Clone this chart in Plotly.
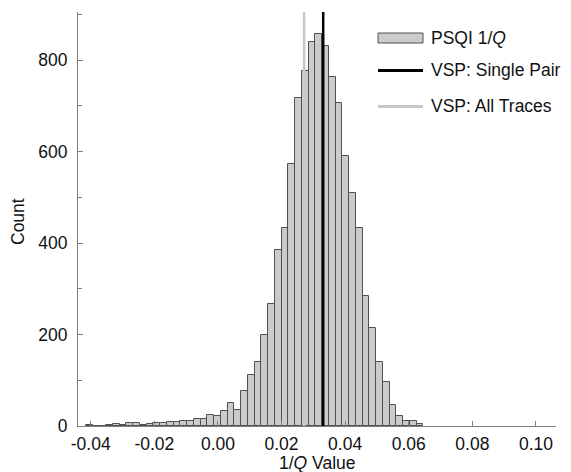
import plotly.graph_objects as go

# ---- data ----
bin_width = 0.002121          # histogram bin width (1/Q units)
first_bin_center = -0.04043   # centre of the left-most bin
counts = [2, 1, 0, 3, 5, 3, 7, 6, 3, 5, 6, 7, 9, 9, 12, 11, 15, 16, 23, 22,
          33, 51, 35, 76, 111, 139, 198, 267, 384, 433, 573, 716, 777, 840,
          857, 830, 764, 706, 590, 509, 433, 285, 215, 140, 96, 45, 22, 12, 12, 4]
vsp_single_pair = 0.0331
vsp_all_traces = 0.0271
x_ticks = [-0.04, -0.02, 0.00, 0.02, 0.04, 0.06, 0.08, 0.10]
x_tick_labels = ["-0.04", "-0.02", "0.00", "0.02", "0.04", "0.06", "0.08", "0.10"]
y_ticks = [0, 200, 400, 600, 800]
x_range = [-0.0440, 0.1063]
y_range = [0, 905]

FONT = "Liberation Sans, Arial, sans-serif"
BAR_FILL = "#cbcbcb"
BAR_EDGE = "#505050"
GRAY_LINE = "#c8c8c8"
AXIS_COL = "#7f7f7f"

fig = go.Figure()
fig.add_trace(go.Bar(
    y=counts, x0=first_bin_center, dx=bin_width, width=bin_width,
    marker=dict(color=BAR_FILL, line=dict(color=BAR_EDGE, width=1)),
    showlegend=False, hoverinfo="skip"))
fig.add_trace(go.Scatter(
    x=[vsp_all_traces, vsp_all_traces], y=y_range, mode="lines",
    line=dict(color=GRAY_LINE, width=2.5), showlegend=False))
fig.add_trace(go.Scatter(
    x=[vsp_single_pair, vsp_single_pair], y=y_range, mode="lines",
    line=dict(color="#000000", width=2.5), showlegend=False))

# plot area in pixels: x 78..556, y 12..426
L, R, T, B = 78, 556, 12, 426
W, H = 571, 472
def px(xp):
    return (xp - L) / (R - L)
def py(yp):
    return (B - yp) / (B - T)

shapes = []
annotations = []
# manual legend
leg_x0, leg_x1, leg_tx = 378, 423, 429
shapes.append(dict(type="rect", xref="paper", yref="paper",
                   x0=px(leg_x0), x1=px(leg_x1), y0=py(43), y1=py(33),
                   fillcolor=BAR_FILL, line=dict(color=BAR_EDGE, width=1)))
shapes.append(dict(type="line", xref="paper", yref="paper",
                   x0=px(leg_x0), x1=px(leg_x1), y0=py(70.5), y1=py(70.5),
                   line=dict(color="#000000", width=3)))
shapes.append(dict(type="line", xref="paper", yref="paper",
                   x0=px(leg_x0), x1=px(leg_x1), y0=py(106.5), y1=py(106.5),
                   line=dict(color=GRAY_LINE, width=3)))
for text, yy in [("PSQI 1/<i>Q</i>", 38), ("VSP: Single Pair", 70),
                 ("VSP: All Traces", 106)]:
    annotations.append(dict(text=text, xref="paper", yref="paper",
                            x=px(leg_tx), y=py(yy), xanchor="left",
                            yanchor="middle", showarrow=False,
                            font=dict(family=FONT, size=17.5, color="#111111")))
# axis titles
annotations.append(dict(text="1/<i>Q</i> Value", xref="paper", yref="paper",
                        x=px(317), y=py(463), xanchor="center", yanchor="middle",
                        showarrow=False,
                        font=dict(family=FONT, size=17.5, color="#111111")))
annotations.append(dict(text="Count", xref="paper", yref="paper",
                        x=px(18), y=py(222), xanchor="center", yanchor="middle",
                        textangle=-90, showarrow=False,
                        font=dict(family=FONT, size=17.5, color="#111111")))

fig.update_layout(
    width=W, height=H,
    margin=dict(l=L, r=W - R, t=T, b=H - B, pad=0),
    paper_bgcolor="white", plot_bgcolor="white",
    bargap=0,
    font=dict(family=FONT, size=17, color="#111111"),
    shapes=shapes, annotations=annotations,
    showlegend=False,
)
fig.update_xaxes(
    range=x_range, tickvals=x_ticks, ticktext=x_tick_labels,
    showline=True, linecolor=AXIS_COL, linewidth=1,
    ticks="inside", ticklen=5, tickcolor=AXIS_COL, tickwidth=1,
    showgrid=False, zeroline=False, ticklabelstandoff=2,
    tickfont=dict(family=FONT, size=17.5, color="#111111"))
fig.update_yaxes(
    range=y_range, tickvals=y_ticks,
    showline=True, linecolor=AXIS_COL, linewidth=1,
    ticks="inside", ticklen=5, tickcolor=AXIS_COL, tickwidth=1,
    minor=dict(ticks="inside", dtick=100, tick0=0, ticklen=4, tickcolor=AXIS_COL),
    showgrid=False, zeroline=False, ticklabelstandoff=6,
    tickfont=dict(family=FONT, size=17.5, color="#111111"))

fig.write_html(
    "out.html",
    config={"displayModeBar": False},
    post_script="document.body.style.margin='0';document.body.style.padding='0';"
                "document.body.style.overflow='hidden';")
